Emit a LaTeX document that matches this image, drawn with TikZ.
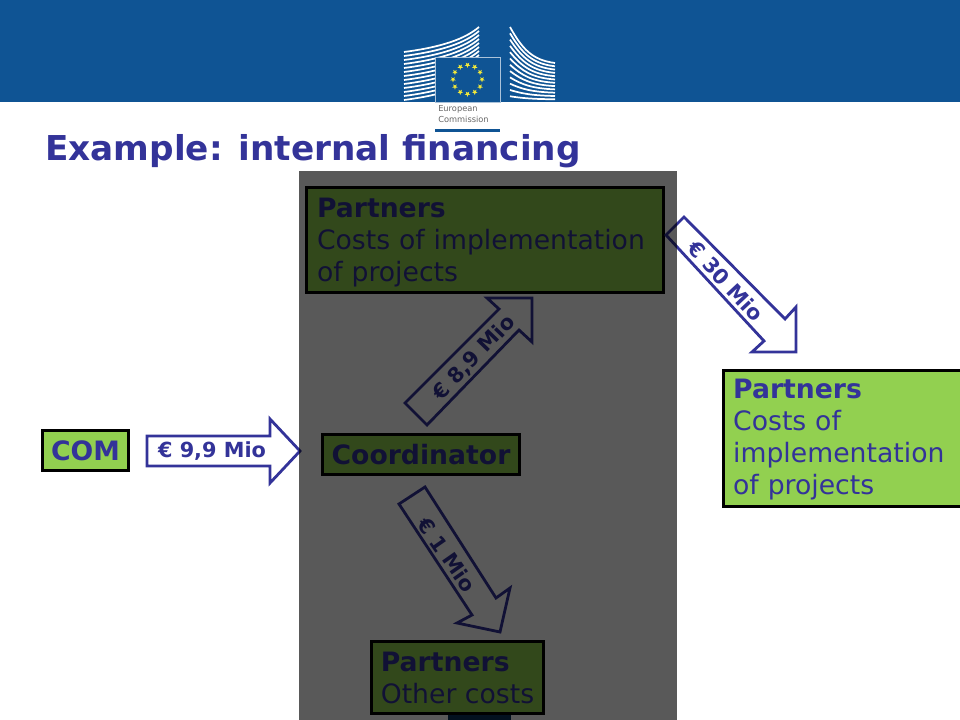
\documentclass[tikz,border=0pt]{standalone}
\usepackage{fontspec}
\setmainfont{DejaVu Sans}
\definecolor{ecblue}{HTML}{0F5494}
\definecolor{navy}{HTML}{333399}
\definecolor{boxgreen}{HTML}{92D050}
\definecolor{starcol}{HTML}{F2E93A}
\tikzset{
  boxnode/.style={draw=black,line width=2.25pt,fill=boxgreen,text=navy,inner sep=0pt,outer sep=0pt,align=left,anchor=north west,font=\fontsize{20}{24}\selectfont},
  blockarrow/.style={draw=navy,line width=2.1pt,fill=white,line join=miter},
  arrowlabel/.style={text=navy,inner sep=0pt,font=\fontsize{15.6}{18}\selectfont\bfseries},
  stripe/.style={draw=white,line width=1.3pt}
}
\begin{document}
\begin{tikzpicture}[x=.75pt,y=-.75pt]
\useasboundingbox (0,0) rectangle (960,720);
\clip (0,0) rectangle (960,720);
\fill[white] (0,0) rectangle (960,720);
\fill[ecblue] (0,0) rectangle (960,102);
% logo buildings
\begin{scope}
\clip (400,20) rectangle (560,102);
\foreach \i in {0,...,12}{
  \draw[stripe] (404,{52+4*\i}) .. controls (442,{47+4*\i}) and (465,{39+4*\i}) .. (479,{27+4*\i});
}
\foreach \i in {0,...,12}{
  \pgfmathsetmacro{\ya}{27+6.3*\i}
  \pgfmathsetmacro{\yb}{63+3.3*\i}
  \pgfmathsetmacro{\ca}{\ya+(\yb-\ya)*.6}
  \pgfmathsetmacro{\cb}{\ya+(\yb-\ya)*.92}
  \draw[stripe] (510,\ya) .. controls (522,\ca) and (532,\cb) .. (555,\yb);
}
\end{scope}
\fill[ecblue,draw=white!65!ecblue,line width=.6pt] (435,57.5) rectangle (500,102);
\foreach \a in {0,30,...,330}{
  \begin{scope}[shift={({467.5+14.5*cos(\a)},{79.5+14.5*sin(\a)})}]
  \fill[starcol] (90:2.9) -- (126:1.2) -- (162:2.9) -- (198:1.2) -- (234:2.9) -- (270:1.2) -- (306:2.9) -- (342:1.2) -- (18:2.9) -- (54:1.2) -- cycle;
  \end{scope}
}
\node[anchor=base west,inner sep=0pt,text=black!60,font=\fontsize{6.2}{7}\selectfont] (eur) at (438,112) {European};
\node[anchor=base west,inner sep=0pt,text=black!60,font=\fontsize{6.2}{7}\selectfont] (com) at (438,123) {Commission};
\fill[ecblue] (435,129) rectangle (500,132.5);
% title
\node[anchor=base west,inner sep=0pt,text=navy,font=\fontsize{25.7}{30}\selectfont\bfseries] (title) at (45,161) {Example: internal financing};
% footer fragment
\fill[ecblue!60!black] (448,710) rectangle (511,720);
% boxes
\node[boxnode,minimum width=267.75pt,minimum height=78.75pt,text width=252pt] (p1) at (306.5,187.5) {\rule{0pt}{19pt}\textbf{Partners}\\Costs of implementation\\of projects};
\node[boxnode,minimum width=147.75pt,minimum height=30pt,align=center] (coord) at (322.5,434.5) {\textbf{Coordinator}};
\node[boxnode,minimum width=64.5pt,minimum height=30pt,align=center] (comb) at (42.5,430.5) {\textbf{COM}};
\node[boxnode,minimum width=190pt,minimum height=102pt,text width=175.5pt] (p2) at (723.5,370.5) {\rule{0pt}{16.8pt}\textbf{Partners}\\Costs of\\implementation\\of projects};
\node[boxnode,minimum width=129pt,minimum height=54pt] (p3) at (371.5,641.5) {\textbf{Partners}\\Other costs};
% block arrows
\draw[blockarrow] (147,436) -- (270,436) -- (270,419) -- (300,451) -- (270,483) -- (270,466) -- (147,466) -- cycle;
\node[arrowlabel] (a1) at (212,451) {€ 9,9 Mio};
\draw[blockarrow] (684,217) -- (785,319) -- (796,307) -- (796,352) -- (752,352) -- (764,341) -- (666,235) -- cycle;
\node[arrowlabel,rotate=-47] (a2) at (726,281) {€ 30 Mio};
\draw[blockarrow] (405,403) -- (427,425) -- (519,330) -- (532,342) -- (532,298) -- (487,298) -- (499,309) -- cycle;
\node[arrowlabel,rotate=46] (a3) at (474,358) {€ 8,9 Mio};
\draw[blockarrow] (399,504) -- (425,487) -- (496,598) -- (510,588) -- (500,632) -- (457,623) -- (472,615) -- cycle;
\node[arrowlabel,rotate=-55] (a4) at (447,555) {€ 1 Mio};
% overlay
\fill[black,fill opacity=.65] (299,171) rectangle (677,720);
\end{tikzpicture}
\end{document}
